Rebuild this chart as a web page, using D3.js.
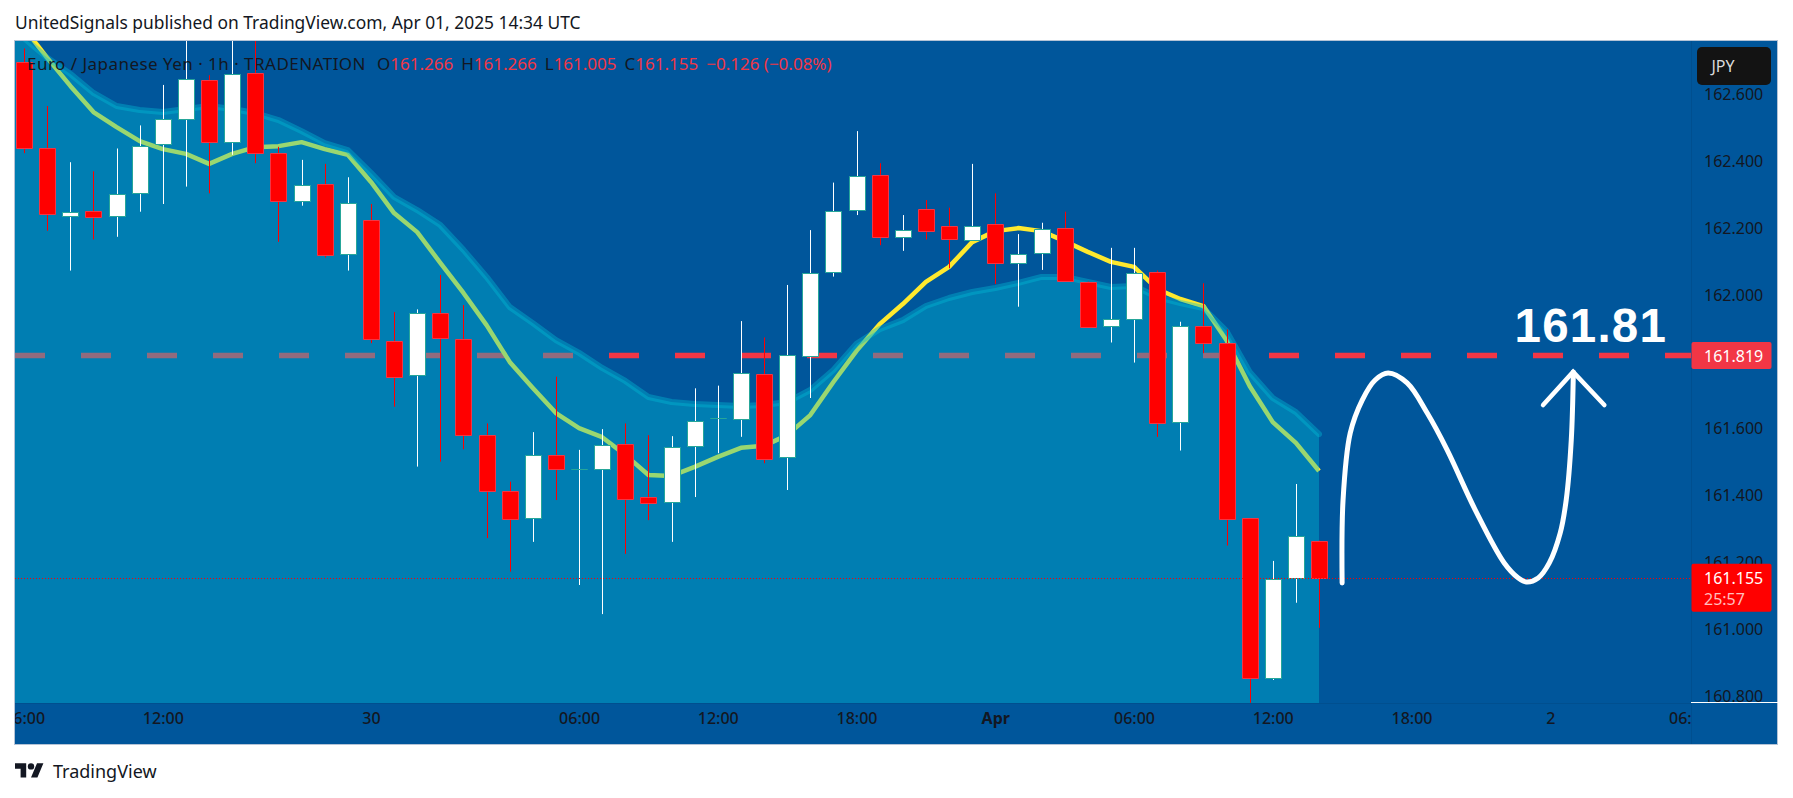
<!DOCTYPE html>
<html>
<head>
<meta charset="utf-8">
<script src="https://cdn.jsdelivr.net/npm/d3@7"></script>
<style>
  html, body { margin: 0; padding: 0; background: #fff; }
  svg { display: block; }
  text { font-family: "Noto Sans", sans-serif; }
</style>
</head>
<body>
<div id="chart"></div>
<script>
const opens = [162.696,162.440,162.235,162.250,162.235,162.305,162.451,162.526,162.642,162.456,
  162.663,162.426,162.280,162.331,162.122,162.223,161.861,161.760,161.945,161.867,
  161.580,161.413,161.332,161.521,161.479,161.479,161.554,161.395,161.380,161.548,
  161.631,161.628,161.763,161.515,161.817,162.068,162.253,162.358,162.172,162.256,
  162.205,162.163,162.211,162.095,162.125,162.199,162.038,161.906,161.927,162.068,
  161.619,161.908,161.856,161.332,160.855,161.153,161.266];
const closes = [162.438,162.241,162.249,162.234,162.303,162.446,162.527,162.645,162.456,162.662,
  162.426,162.280,162.330,162.121,162.276,161.867,161.756,161.947,161.870,161.580,
  161.415,161.331,161.521,161.481,161.479,161.553,161.391,161.379,161.547,161.624,
  161.631,161.766,161.511,161.820,162.067,162.252,162.357,162.172,162.195,162.190,
  162.166,162.207,162.095,162.124,162.198,162.041,161.903,161.928,162.067,161.618,
  161.908,161.856,161.331,160.854,161.152,161.281,161.155];
const highs = [162.737,162.565,162.397,162.370,162.438,162.507,162.628,162.780,162.657,162.780,
  162.780,162.443,162.404,162.392,162.352,162.272,161.949,161.957,162.060,161.970,
  161.616,161.442,161.590,161.756,161.537,161.599,161.616,161.581,161.578,161.721,
  161.729,161.922,161.873,162.030,162.194,162.336,162.490,162.394,162.239,162.284,
  162.261,162.392,162.304,162.182,162.216,162.249,162.040,162.141,162.141,162.073,
  161.920,162.035,161.897,161.332,161.205,161.435,161.266];
const lows = [162.424,162.192,162.073,162.166,162.174,162.249,162.272,162.324,162.304,162.419,
  162.394,162.159,162.267,162.112,162.073,161.856,161.666,161.487,161.502,161.539,
  161.273,161.173,161.262,161.387,161.133,161.046,161.226,161.327,161.262,161.396,
  161.527,161.576,161.497,161.417,161.692,162.055,162.239,162.149,162.132,162.166,
  162.080,162.163,162.033,161.965,162.075,162.041,161.902,161.858,161.798,161.576,
  161.535,161.826,161.251,160.781,160.849,161.080,161.005];
// both lines start one bar before the first candle, off the left edge
const fastLine = [162.890,162.798,162.709,162.625,162.547,162.502,162.460,162.436,162.422,162.392,162.422,
  162.442,162.445,162.457,162.436,162.419,162.338,162.245,162.188,162.096,162.006,
  161.910,161.800,161.722,161.647,161.602,161.575,161.522,161.462,161.459,161.486,
  161.516,161.543,161.549,161.581,161.641,161.740,161.833,161.913,161.973,162.039,
  162.084,162.158,162.191,162.200,162.191,162.161,162.129,162.099,162.084,162.018,
  161.988,161.967,161.865,161.728,161.620,161.558,161.474];
const bandLine = [162.830,162.768,162.709,162.661,162.604,162.565,162.553,162.547,162.556,162.565,162.556,
  162.544,162.523,162.490,162.454,162.433,162.365,162.293,162.254,162.209,162.135,
  162.054,161.964,161.916,161.865,161.827,161.782,161.743,161.695,161.680,161.674,
  161.671,161.668,161.671,161.680,161.716,161.776,161.854,161.898,161.925,161.967,
  161.991,162.009,162.021,162.036,162.054,162.054,162.039,162.024,162.027,161.994,
  161.976,161.961,161.892,161.770,161.692,161.650,161.584];

const priceTicks = [160.8,161.0,161.2,161.4,161.6,162.0,162.2,162.4,162.6];
const timeBars = [0,6,15,24,30,36,42,48,54,60,66,72];
const timeLabels = ["06:00","12:00","30","06:00","12:00","18:00","Apr","06:00","12:00","18:00","2","06:00"];

const targetPrice = 161.819;
const lastPrice = 161.155;

// hand drawn projection, in [bar, price]
const drawnCurve = [[57.0,161.139],[57.04,161.387],[57.35,161.587],[57.87,161.686],[58.43,161.746],
  [58.99,161.767],[59.81,161.737],[60.68,161.647],[61.54,161.537],[62.76,161.357],
  [64.01,161.199],[64.62,161.154],[64.96,161.142],[65.48,161.154],[65.96,161.199],[66.43,161.288],
  [66.69,161.387],[66.91,161.567],[67.0,161.770]];
const drawnArrow = [[65.69,161.671],[66.99,161.770],[68.34,161.671]];

const width = 1793, height = 798;
const pane = { left: 15, right: 1691, top: 41, bottom: 703 };
const frameRight = 1777, frameBottom = 744;

const navy = "#00569b", ink = "#131722", upBorder = "#26a69a", downBorder = "#f23645";

const svg = d3.select("#chart").append("svg").attr("width", width).attr("height", height);

const x = d3.scaleLinear().domain([0, 56]).range([24.1, 1319]);
const y = d3.scaleLinear().domain([162, 161]).range([295, 629.5]);

const defs = svg.append("defs");
defs.append("clipPath").attr("id", "pane-clip").append("rect")
    .attr("x", pane.left).attr("y", pane.top)
    .attr("width", pane.right - pane.left).attr("height", pane.bottom - pane.top);
defs.append("clipPath").attr("id", "time-clip").append("rect")
    .attr("x", pane.left).attr("y", pane.bottom)
    .attr("width", pane.right - pane.left).attr("height", frameBottom - pane.bottom);
defs.append("clipPath").attr("id", "price-clip").append("rect")
    .attr("x", pane.right).attr("y", pane.top)
    .attr("width", frameRight - pane.right).attr("height", pane.bottom - pane.top - 1);

// frame
svg.append("rect")
    .attr("x", pane.left - 0.5).attr("y", pane.top - 0.5)
    .attr("width", frameRight - pane.left + 1).attr("height", frameBottom - pane.top + 1)
    .attr("fill", navy).attr("stroke", "#b4c3d6");

const plot = svg.append("g").attr("clip-path", "url(#pane-clip)");

// target line and fast line sit under the translucent area, that is what tints them
plot.append("line")
    .attr("x1", pane.left).attr("x2", pane.right)
    .attr("y1", y(targetPrice)).attr("y2", y(targetPrice))
    .attr("stroke", downBorder).attr("stroke-width", 5.5).attr("stroke-dasharray", "30,36");

const lineGen = d3.line().x((d, i) => x(i - 1)).y(d => y(d));
plot.append("path").attr("d", lineGen(fastLine))
    .attr("fill", "none").attr("stroke", "#ffe92e").attr("stroke-width", 4.5).attr("stroke-linejoin", "round");

const areaGen = d3.area().x((d, i) => x(i - 1)).y0(pane.bottom).y1(d => y(d));
plot.append("path").attr("d", areaGen(bandLine)).attr("fill", "#00bcd4").attr("fill-opacity", 0.4);
plot.append("path").attr("d", lineGen(bandLine))
    .attr("fill", "none").attr("stroke", "#00bcd4").attr("stroke-opacity", 0.4)
    .attr("stroke-width", 6).attr("stroke-linecap", "round").attr("stroke-linejoin", "round");

// candles
const candles = opens.map((o, i) => ({ i, o, c: closes[i], h: highs[i], l: lows[i] }));
const candle = plot.selectAll("g.candle").data(candles).join("g").attr("class", "candle")
    .attr("transform", d => `translate(${Math.round(x(d.i))},0)`);
candle.append("line")
    .attr("x1", 0.5).attr("x2", 0.5)
    .attr("y1", d => y(d.h)).attr("y2", d => y(d.l))
    .attr("stroke", d => d.c >= d.o ? "#ffffff" : "#ff0000");
candle.append("path")
    .attr("d", d => {
        const top = Math.round(y(Math.max(d.o, d.c))) + 0.5;
        const bot = Math.round(y(Math.min(d.o, d.c))) + 0.5;
        return `M-7.5,${top}H8.5V${bot}H-7.5Z`;
    })
    .attr("fill", d => d.c >= d.o ? "#ffffff" : "#ff0000")
    .attr("stroke", d => d.c >= d.o ? upBorder : downBorder);

// last price dotted line
plot.append("line")
    .attr("x1", pane.left).attr("x2", pane.right)
    .attr("y1", Math.round(y(lastPrice)) + 0.5).attr("y2", Math.round(y(lastPrice)) + 0.5)
    .attr("stroke", "#ff0000").attr("stroke-dasharray", "1,2");

// drawing on top
const drawGen = d3.line().x(d => x(d[0])).y(d => y(d[1]));
plot.append("path").attr("d", drawGen.curve(d3.curveCatmullRom)(drawnCurve))
    .attr("fill", "none").attr("stroke", "#fff").attr("stroke-width", 5).attr("stroke-linecap", "round");
plot.append("path").attr("d", d3.line().x(d => x(d[0])).y(d => y(d[1]))(drawnArrow))
    .attr("fill", "none").attr("stroke", "#fff").attr("stroke-width", 4.5)
    .attr("stroke-linecap", "round").attr("stroke-linejoin", "miter");
plot.append("text")
    .attr("x", x(64.46)).attr("y", y(targetPrice) - 14)
    .attr("fill", "#fff").attr("font-size", 47.5).attr("font-weight", 700)
    .style("font-family", "'Liberation Sans', sans-serif").style("letter-spacing", "1.2px")
    .text("161.81");

// axis separators
svg.append("line").attr("x1", pane.right + 0.5).attr("x2", pane.right + 0.5)
    .attr("y1", pane.top).attr("y2", frameBottom).attr("stroke", "#004f8f");
svg.append("line").attr("x1", pane.left).attr("x2", pane.right)
    .attr("y1", pane.bottom + 0.5).attr("y2", pane.bottom + 0.5).attr("stroke", "#004f8f");
svg.append("line").attr("x1", pane.right).attr("x2", frameRight + 1)
    .attr("y1", pane.bottom - 0.5).attr("y2", pane.bottom - 0.5).attr("stroke", "#fff");

// time axis
const timeAxis = svg.append("g").attr("clip-path", "url(#time-clip)")
    .append("g").attr("transform", `translate(0,${pane.bottom + 10})`)
    .call(d3.axisBottom(x).tickValues(timeBars).tickSize(0).tickPadding(0)
        .tickFormat((d, i) => timeLabels[i]));
timeAxis.select(".domain").remove();
timeAxis.selectAll("text")
    .attr("fill", ink)
    .style("font-size", "16px")
    .style("font-family", "'Noto Sans', sans-serif")
    .style("font-weight", function() { return this.textContent === "Apr" ? 700 : 500; });

// price axis
const priceAxis = svg.append("g").attr("clip-path", "url(#price-clip)")
    .append("g").attr("transform", `translate(${pane.right + 13},0)`)
    .call(d3.axisRight(y).tickValues(priceTicks).tickSize(0).tickPadding(0).tickFormat(d3.format(".3f")));
priceAxis.select(".domain").remove();
priceAxis.selectAll("text")
    .attr("fill", ink)
    .style("font-size", "16px")
    .style("font-family", "'Noto Sans', sans-serif");

// price tags
function tag(top, h, fill) {
    svg.append("rect").attr("x", pane.right + 0.5).attr("y", top).attr("width", 80).attr("height", h)
        .attr("rx", 2).attr("fill", fill);
}
tag(y(targetPrice) - 13.5, 27, downBorder);
svg.append("text").attr("x", pane.right + 13).attr("y", y(targetPrice) + 6)
    .attr("fill", "#fff").attr("font-size", 16).text(d3.format(".3f")(targetPrice));
tag(y(lastPrice) - 14, 48, "#ff0000");
svg.append("text").attr("x", pane.right + 13).attr("y", y(lastPrice) + 6)
    .attr("fill", "#fff").attr("font-size", 16).text(d3.format(".3f")(lastPrice));
svg.append("text").attr("x", pane.right + 13).attr("y", y(lastPrice) + 27)
    .attr("fill", "#fff").attr("fill-opacity", 0.75).attr("font-size", 16).text("25:57");

// currency badge
svg.append("rect").attr("x", 1697).attr("y", 47).attr("width", 74).attr("height", 38)
    .attr("rx", 5).attr("fill", "#131313");
svg.append("text").attr("x", 1711.5).attr("y", 71.5).attr("fill", "#dbdbdb").attr("font-size", 16).text("JPY");

// publisher line and legend
svg.append("text").attr("x", 15).attr("y", 29).attr("fill", ink).attr("font-size", 17.4)
    .text("UnitedSignals published on TradingView.com, Apr 01, 2025 14:34 UTC");

const legendRed = "#f23645";
const legend = svg.append("text").attr("x", 27).attr("y", 70).attr("font-size", 17).attr("fill", ink);
legend.append("tspan").style("letter-spacing", "0.47px").text("Euro / Japanese Yen · 1h · TRADENATION");
[["O", "161.266"], ["H", "161.266"], ["L", "161.005"], ["C", "161.155"]].forEach(([k, v], i) => {
    legend.append("tspan").attr("dx", i === 0 ? 11 : 8).text(k);
    legend.append("tspan").attr("fill", legendRed).text(v);
});
legend.append("tspan").attr("dx", 8).attr("fill", legendRed).text("−0.126 (−0.08%)");

// footer logo
const logo = svg.append("g").attr("transform", "translate(15,760) scale(0.8)").attr("fill", ink);
logo.append("path").attr("d", "M14 22H7V11H0V4h14v18zM28 22h-8l7.5-18h8L28 22z");
logo.append("circle").attr("cx", 20).attr("cy", 8).attr("r", 4);
svg.append("text").attr("x", 53).attr("y", 778).attr("fill", ink).attr("font-size", 18)
    .text("TradingView");
</script>
</body>
</html>
